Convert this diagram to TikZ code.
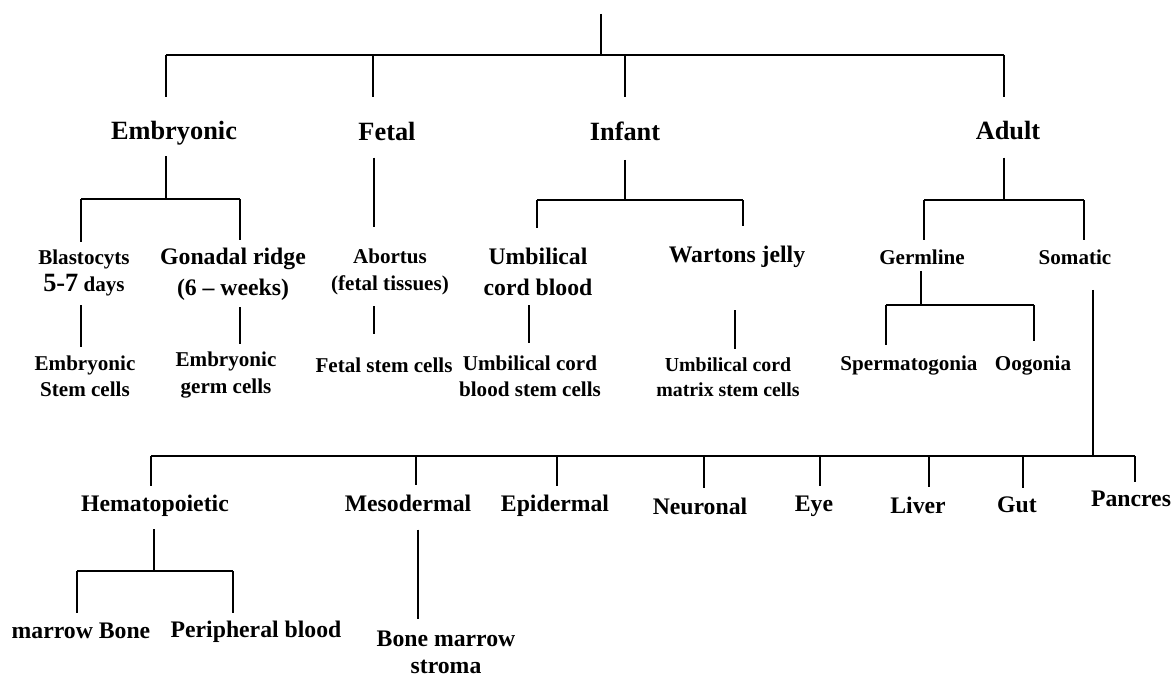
\documentclass[tikz,border=0pt]{standalone}
\usepackage{fontspec}
\setmainfont{Liberation Serif}
\tikzset{
  lvA/.style={font=\fontsize{15}{18}\selectfont\bfseries, inner sep=0pt, align=center},
  lvB/.style={font=\fontsize{13.5}{17.5}\selectfont\bfseries, inner sep=0pt, align=center},
  lvC/.style={font=\fontsize{12}{15}\selectfont\bfseries, inner sep=0pt, align=center},
  link/.style={line width=1pt},
}
\begin{document}
\begin{tikzpicture}[x=0.02cm, y=-0.02cm]
    \useasboundingbox (0,0) rectangle (1173,679);
    % first level: age of the source
    \node[lvA] (emb) at (174,133) {Embryonic};
    \node[lvA] (fet) at (387,131) {Fetal};
    \node[lvA] (inf) at (625,131) {Infant};
    \node[lvA] (adu) at (1008,131) {Adult};
    % second level
    \node[lvC] (bla) at (84,273) {Blastocyts\\{\fontsize{15}{17.5}\selectfont 5-7} days};
    \node[lvB] (gon) at (233,274) {Gonadal ridge\\(6 – weeks)};
    \node[lvC] (abo) at (390,272) {Abortus\\(fetal tissues)};
    \node[lvB] (ucb) at (538,272) {Umbilical\\cord blood};
    \node[lvB] (war) at (737,257) {Wartons jelly};
    \node[lvC] (ger) at (922,257) {Germline};
    \node[lvC] (som) at (1075,257) {Somatic};
    % cell types
    \node[lvC] (esc) at (85,376) {Embryonic\\Stem cells};
    \node[lvC] (egc) at (226,375) {Embryonic\\germ cells};
    \node[lvC] (fsc) at (384,365) {Fetal stem cells};
    \node[lvC] (ucs) at (530,376) {Umbilical cord\\blood stem cells};
    \node[lvC, font=\fontsize{11.3}{14.5}\selectfont\bfseries] (msc) at (728,377) {Umbilical cord\\matrix stem cells};
    \node[lvC] (spe) at (909,366) {Spermatogonia};
    \node[lvC] (oog) at (1033,366) {Oogonia};
    % somatic tissues
    \node[lvB] (hem) at (155,506) {Hematopoietic};
    \node[lvB] (mes) at (408,503) {Mesodermal};
    \node[lvB] (epi) at (555,506) {Epidermal};
    \node[lvB] (neu) at (700,506) {Neuronal};
    \node[lvB] (eye) at (814,506) {Eye};
    \node[lvB] (liv) at (918,505) {Liver};
    \node[lvB] (gut) at (1017,505) {Gut};
    \node[lvB] (pan) at (1131,499) {Pancres};
    \node[lvB] (mab) at (81,631) {marrow Bone};
    \node[lvB] (pbl) at (256,632) {Peripheral blood};
    \node[lvB, font=\fontsize{13.5}{15.5}\selectfont\bfseries] (bms) at (446,652) {Bone marrow\\stroma};
    % root and top bar
    \coordinate (top) at (601,14);
    \coordinate (r0) at (601,55);
    \coordinate (rE) at (166,55);
    \coordinate (rF) at (373,55);
    \coordinate (rI) at (625,55);
    \coordinate (rA) at (1004,55);
    \draw[link] (top) -- (r0);
    \draw[link] (rE) -- (rA);
    \foreach \j/\n in {rE/emb, rF/fet, rI/inf, rA/adu}
      \draw[link, shorten >=4.8mm] (\j) -- (\j |- \n.north);
    % embryonic branch
    \coordinate (jE) at (166,199);
    \coordinate (jEa) at (81,199);
    \coordinate (jEb) at (240,199);
    \draw[link, shorten <=2.2mm] (jE |- emb.south) -- (jE);
    \draw[link] (jEa) -- (jEb);
    \draw[link, shorten >=1.6mm] (jEa) -- (jEa |- bla.north);
    \draw[link, shorten >=1.6mm] (jEb) -- (jEb |- gon.north);
    \draw[link, shorten <=1.8mm, shorten >=1.6mm] (jEa |- bla.south) -- (jEa |- esc.north);
    \draw[link, shorten <=1.4mm, shorten >=1.6mm] (jEb |- gon.south) -- (jEb |- egc.north);
    % fetal branch
    \coordinate (jF) at (374,200);
    \draw[link, shorten <=3.4mm, shorten >=4.4mm] (jF |- fet.south) -- (jF |- abo.north);
    \draw[link, shorten <=2.2mm, shorten >=4.6mm] (jF |- abo.south) -- (jF |- fsc.north);
    % infant branch
    \coordinate (jI) at (625,200);
    \coordinate (jIa) at (537,200);
    \coordinate (jIb) at (743,200);
    \draw[link, shorten <=3.8mm] (jI |- inf.south) -- (jI);
    \draw[link] (jIa) -- (jIb);
    \draw[link, shorten >=4mm] (jIa) -- (jIa |- ucb.north);
    \draw[link, shorten >=4mm] (jIb) -- (jIb |- war.north);
    \coordinate (jU) at (529,300);
    \coordinate (jW) at (735,300);
    \draw[link, shorten <=1.8mm, shorten >=2.4mm] (jU |- ucb.south) -- (jU |- ucs.north);
    \draw[link, shorten <=8.4mm, shorten >=1.6mm] (jW |- war.south) -- (jW |- msc.north);
    % adult branch
    \coordinate (jA) at (1004,200);
    \coordinate (jAa) at (924,200);
    \coordinate (jAb) at (1084,200);
    \draw[link, shorten <=3.4mm] (jA |- adu.south) -- (jA);
    \draw[link] (jAa) -- (jAb);
    \draw[link, shorten >=1.8mm] (jAa) -- (jAa |- ger.north);
    \draw[link, shorten >=1.8mm] (jAb) -- (jAb |- som.north);
    % germline
    \coordinate (jG) at (921,305);
    \coordinate (jGa) at (886,305);
    \coordinate (jGb) at (1034,305);
    \draw[link, shorten <=1.2mm] (jG |- ger.south) -- (jG);
    \draw[link] (jGa) -- (jGb);
    \draw[link, shorten >=2.2mm] (jGa) -- (jGa |- spe.north);
    \draw[link, shorten >=3mm] (jGb) -- (jGb |- oog.north);
    % somatic
    \coordinate (jS) at (1093,456);
    \coordinate (jSa) at (151,456);
    \coordinate (jSb) at (1135,456);
    \draw[link, shorten <=5mm] (jS |- som.south) -- (jS);
    \draw[link] (jSa) -- (jSb);
    \foreach \x/\n in {151/hem, 416/mes, 557/epi, 704/neu, 820/eye, 929/liv, 1023/gut}
      \draw[link, shorten >=1.8mm] (\x,456) -- (\x,456 |- \n.north);
    \draw[link, shorten >=1.8mm] (jSb) -- (jSb |- pan.north);
    % hematopoietic and mesodermal
    \coordinate (jH) at (154,571);
    \coordinate (jHa) at (77,571);
    \coordinate (jHb) at (233,571);
    \draw[link, shorten <=2.4mm] (jH |- hem.south) -- (jH);
    \draw[link] (jHa) -- (jHb);
    \draw[link, shorten >=2mm] (jHa) -- (jHa |- mab.north);
    \draw[link, shorten >=1.6mm] (jHb) -- (jHb |- pbl.north);
    \coordinate (jM) at (418,571);
    \draw[link, shorten <=3.6mm, shorten >=2.2mm] (jM |- mes.south) -- (jM |- bms.north);
\end{tikzpicture}
\end{document}
